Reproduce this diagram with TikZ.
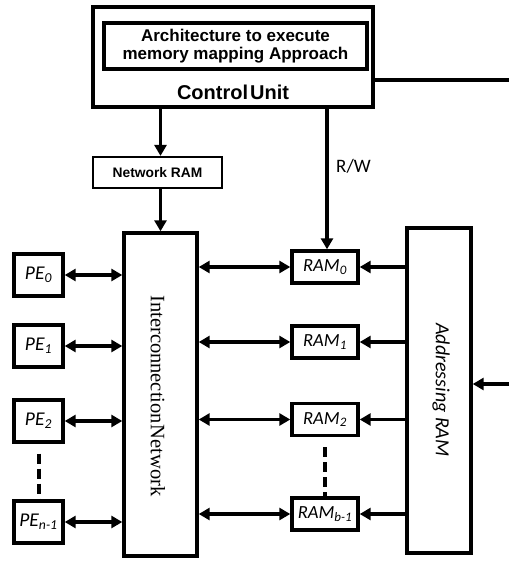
\documentclass[tikz,border=0pt]{standalone}
\usepackage{fontspec}
\setmainfont{Liberation Serif}
\newfontfamily\arialf{Liberation Sans}
\newfontfamily\calibf{Carlito}
\usetikzlibrary{arrows.meta}
\tikzset{
  box/.style={draw, line width=3.4pt, inner sep=0pt, fill=white},
  thinbox/.style={draw, line width=2.2pt, inner sep=0pt},
  pebox/.style={box, minimum width=49pt, minimum height=42pt, font=\calibf\itshape\fontsize{19.5}{22}\selectfont},
  rambox/.style={box, minimum width=66pt, minimum height=32pt, font=\calibf\itshape\fontsize{18.5}{21}\selectfont},
  tip/.tip={Triangle[length=11pt,width=12pt]},
  conn/.style={line width=3.8pt, -tip},
  biconn/.style={line width=3.8pt, tip-tip},
  plain/.style={line width=3.8pt},
  dots/.style={line width=4pt, dash pattern=on 10pt off 5pt},
}
\begin{document}
\begin{tikzpicture}[x=1pt,y=-1pt]
\useasboundingbox (0,0) rectangle (509,561);
% control unit
\node[box, minimum width=280pt, minimum height=100pt] (cu) at (233,57) {};
\node[box, line width=3.6pt, minimum width=263pt, minimum height=46pt, align=center,
      font=\arialf\bfseries\fontsize{17}{18.5}\selectfont] (arch) at (235.5,46)
      {Architecture to execute\\memory mapping Approach};
\node[font=\arialf\bfseries\fontsize{20}{22}\selectfont] (cutext) at (233,92.5) {Control\hspace{0.1em}Unit};
% network RAM
\node[thinbox, minimum width=129pt, minimum height=31pt, font=\arialf\bfseries\fontsize{13.8}{15}\selectfont] (nram) at (157.5,172.5) {Network RAM};
% interconnection network
\node[box, minimum width=73pt, minimum height=323pt] (ic) at (160.5,394.5) {};
\node[rotate=-90, font=\fontsize{20.5}{22}\selectfont] (ictext) at (158,396) {Interconnection\hspace{0.05em}Network};
% PEs
\node[pebox] (pe0) at (38.5,275) {PE\textsubscript{0}};
\node[pebox] (pe1) at (38.5,346) {PE\textsubscript{1}};
\node[pebox] (pe2) at (38.5,421) {PE\textsubscript{2}};
\node[pebox] (pen) at (38.5,522) {PE\textsubscript{n-1}};
% RAMs
\node[rambox] (ram0) at (325,267) {RAM\textsubscript{0}};
\node[rambox] (ram1) at (325,342) {RAM\textsubscript{1}};
\node[rambox] (ram2) at (325,419.5) {RAM\textsubscript{2}};
\node[rambox] (ramb) at (325,514) {RAM\textsubscript{b-1}};
% addressing RAM
\node[box, minimum width=64pt, minimum height=325pt] (addr) at (439,390.5) {};
\node[rotate=-90, font=\calibf\itshape\fontsize{20}{22}\selectfont] (addrtext) at (441,390) {Addressing RAM};
% connectors from control unit
\draw[conn] (cu.south -| ic.north) -- (nram.north -| ic.north);
\draw[conn] (nram.south -| ic.north) -- (ic.north);
\coordinate (rw) at (327,0);
\draw[conn] (cu.south -| rw) -- (ram0.north -| rw) node[pos=0.41, right=4pt, font=\calibf\fontsize{19}{21}\selectfont] {R/W};
\coordinate (cuout) at (509,80);
\draw[plain] (cuout -| cu.east) -- (cuout);
\coordinate (addin) at (509,384);
\draw[conn] (addin) -- (addin -| addr.east);
% PE <-> IC
\draw[biconn] (pe0.east) -- (pe0.east -| ic.west);
\draw[biconn] (pe1.east) -- (pe1.east -| ic.west);
\draw[biconn] (pe2.east) -- (pe2.east -| ic.west);
\draw[biconn] (pen.east) -- (pen.east -| ic.west);
% IC <-> RAM
\draw[biconn] (ram0.west -| ic.east) -- (ram0.west);
\draw[biconn] (ram1.west -| ic.east) -- (ram1.west);
\draw[biconn] (ram2.west -| ic.east) -- (ram2.west);
\draw[biconn] (ramb.west -| ic.east) -- (ramb.west);
% addressing -> RAM
\draw[conn] (ram0.east -| addr.west) -- (ram0.east);
\draw[conn] (ram1.east -| addr.west) -- (ram1.east);
\draw[conn] (ram2.east -| addr.west) -- (ram2.east);
\draw[conn] (ramb.east -| addr.west) -- (ramb.east);
% dashes
\draw[dots] (pe2.south) ++(0,10) -- (pen.north) ++(0,-7);
\draw[dots] (ram2.south) ++(0,10) -- (ramb.north) ++(0,-9);
\end{tikzpicture}
\end{document}
